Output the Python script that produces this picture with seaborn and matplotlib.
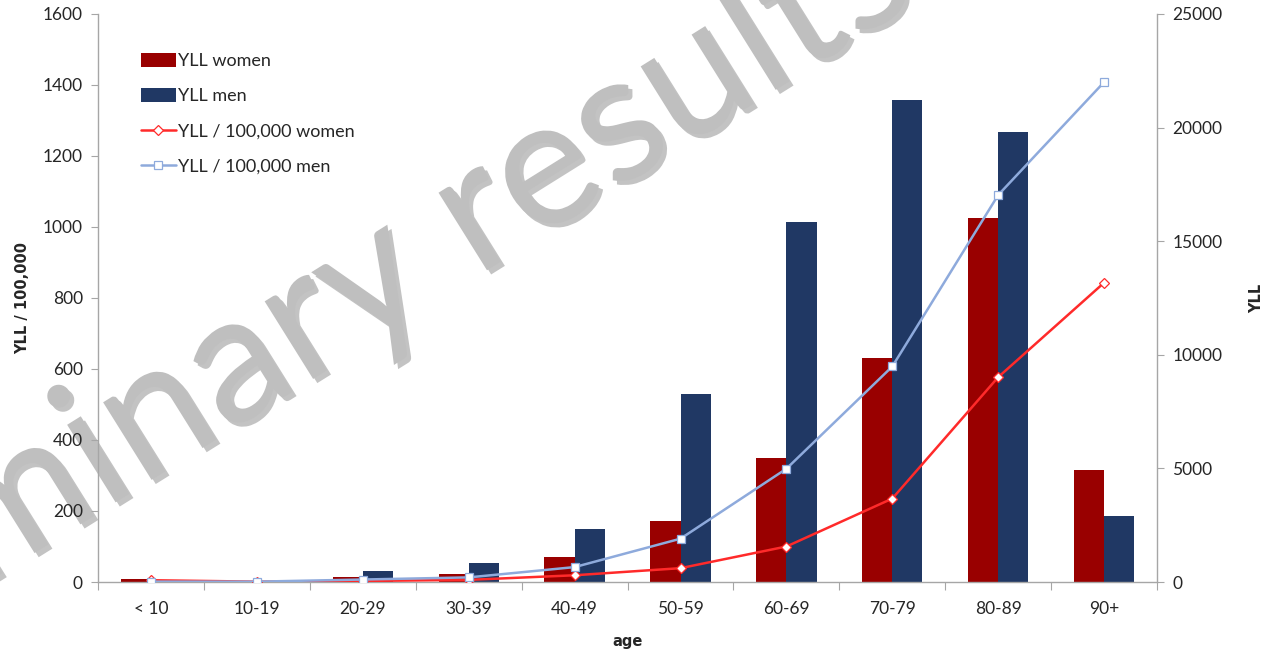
import numpy as np
import pandas as pd
import seaborn as sns
import matplotlib.pyplot as plt
import matplotlib.patheffects as pe

# --------------------------------------------------------------
# Data
# --------------------------------------------------------------
ages = ["< 10", "10-19", "20-29", "30-39", "40-49",
        "50-59", "60-69", "70-79", "80-89", "90+"]

# YLL (right axis, bars)
yll_women = [120, 0, 205, 340, 1100, 2670, 5460, 9845, 16030, 4940]
yll_men = [0, 0, 485, 822, 2350, 8275, 15845, 21215, 19790, 2885]

# YLL / 100,000 (left axis, lines)
rate_women = [5, 1, 3, 6, 19, 39, 100, 235, 577, 843]
rate_men = [1, 1, 7, 13, 42, 122, 319, 607, 1090, 1408]

series = ["YLL women", "YLL men"]
bar_colors = ["#990000", "#203864"]
line_colors = ["#ff2a2a", "#8eaadc"]

bars = pd.DataFrame({
    "age": ages * 2,
    "yll": yll_women + yll_men,
    "series": [series[0]] * len(ages) + [series[1]] * len(ages),
})

# --------------------------------------------------------------
# Figure
# --------------------------------------------------------------
sns.set_style("white")
plt.rcParams["font.family"] = ["Lato", "DejaVu Sans"]

fig = plt.figure(figsize=(12.75, 6.5), dpi=100)
ax = fig.add_axes([0.0769, 0.1046, 0.8306, 0.874])
ax.set_facecolor("none")

# bars on the primary axes (scaled to the YLL axis, shown on the right)
sns.barplot(data=bars, x="age", y="yll", hue="series", order=ages,
            hue_order=series, palette=bar_colors, width=0.57,
            saturation=1, linewidth=0, legend=False, ax=ax)

# lines on a twin axes so they sit on top of the bars
ax2 = ax.twinx()
sns.pointplot(x=ages, y=rate_women, order=ages, color=line_colors[0],
              markers="D", linewidth=1.8, errorbar=None, ax=ax2)
sns.pointplot(x=ages, y=rate_men, order=ages, color=line_colors[1],
              markers="s", linewidth=1.8, errorbar=None, ax=ax2)
for ln, col, ms in zip(ax2.lines, line_colors, [5.5, 6]):
    ln.set_marker("D" if col == line_colors[0] else "s")
    ln.set_markersize(ms)
    ln.set_markerfacecolor("white")
    ln.set_markeredgecolor(col)
    ln.set_markeredgewidth(0.9)
    ln.set_zorder(5)

# --------------------------------------------------------------
# Axes styling
# --------------------------------------------------------------
spine_col = "#a6a6a6"
ax.set_ylim(0, 25000)
ax.set_yticks(np.arange(0, 25001, 5000))
ax.yaxis.tick_right()
ax.yaxis.set_label_position("right")
ax.set_ylabel("YLL", fontsize=10.5, fontweight="bold", family="DejaVu Sans",
              labelpad=19)

ax2.set_ylim(0, 1600)
ax2.set_yticks(np.arange(0, 1601, 200))
ax2.yaxis.tick_left()
ax2.yaxis.set_label_position("left")
ax2.set_ylabel("YLL / 100,000", fontsize=10.5, fontweight="bold",
               family="DejaVu Sans", labelpad=9)

ax.set_xlim(-0.5, len(ages) - 0.5)
ax.set_xticks(np.arange(len(ages) + 1) - 0.5)
ax.set_xticklabels([])
ax.set_xticks(np.arange(len(ages)), labels=ages, minor=True)
ax.set_xlabel("age", fontsize=10.5, fontweight="bold", family="DejaVu Sans",
              labelpad=12)

ax.tick_params(axis="x", which="major", length=6, color=spine_col,
               direction="out", bottom=True)
ax.tick_params(axis="x", which="minor", length=0, labelsize=12.5, pad=14)
ax.tick_params(axis="y", length=5, color=spine_col, direction="out",
               labelsize=12.5, right=True, pad=6)
ax2.tick_params(axis="y", length=5, color=spine_col, direction="out",
                labelsize=12.5, left=True, pad=6)

for side in ["left", "right", "bottom"]:
    ax.spines[side].set_color(spine_col)
    ax.spines[side].set_linewidth(1)
ax.spines["top"].set_visible(False)
for side in ax2.spines:
    ax2.spines[side].set_visible(False)

# legend
handles = [ax.containers[0], ax.containers[1], ax2.lines[0], ax2.lines[1]]
labels = ["YLL women", "YLL men", "YLL / 100,000 women", "YLL / 100,000 men"]
ax2.legend(handles, labels, loc="upper left", bbox_to_anchor=(0.034, 0.944),
           frameon=False, fontsize=13, handlelength=1.9, handleheight=0.8,
           handletextpad=0.15, labelspacing=1.05, borderaxespad=0)

# watermark
fig.text(0.7231, 1.0023, "Preliminary results", rotation=32,
         rotation_mode="anchor", ha="right", va="baseline",
         fontsize=130, color="#bfbfbf", family="Lato", zorder=-1,
         path_effects=[pe.SimplePatchShadow(offset=(3, -3), alpha=0.3),
                       pe.Normal()])

fig.savefig("out.png", dpi=100)
